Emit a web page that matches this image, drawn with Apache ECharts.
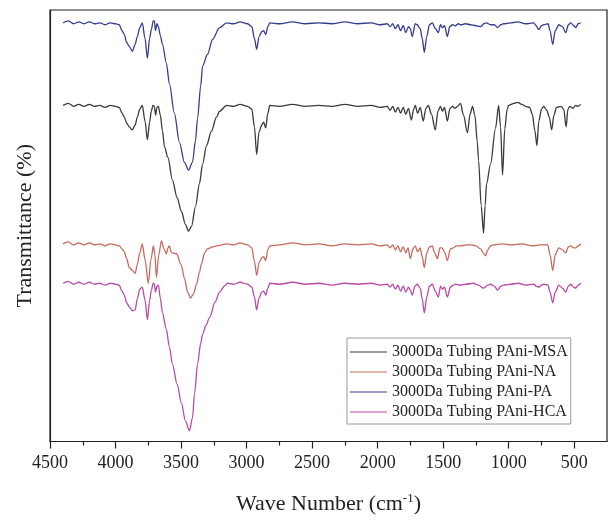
<!DOCTYPE html>
<html>
<head>
<meta charset="utf-8">
<script src="https://cdn.jsdelivr.net/npm/echarts@6/dist/echarts.min.js"></script>
<style>html,body{margin:0;padding:0;background:#fff;}#c{width:608px;height:520px;}</style>
</head>
<body>
<div id="c"></div>
<script>
// Series names
const seriesNames = ['3000Da Tubing PAni-MSA', '3000Da Tubing PAni-NA', '3000Da Tubing PAni-PA', '3000Da Tubing PAni-HCA'];
// x tick labels (wave number, cm-1)
const majorTicks = [500, 1000, 1500, 2000, 2500, 3000, 3500, 4000, 4500];
const minorTicks = [750, 1250, 1750, 2250, 2750, 3250, 3750, 4250];

// [wave number, transmittance (arbitrary offset units)]
const msaData = [[4400,342],[4360,344],[4320,341],[4280,343],[4240,341],[4200,343],[4160,341],[4120,342],[4080,340],[4040,342],[4000,341],[3972,340],[3950,334],[3933,330],[3915,324],[3895,320],[3872,317],[3850,322],[3834,330],[3815,338],[3796,342],[3775,326],[3757,307],[3740,325],[3727,336],[3715,342],[3704,341],[3694,332],[3684,340],[3673,341],[3658,332],[3642,316],[3627,300],[3600,289],[3566,266],[3530,248],[3497,234],[3467,221],[3443,214],[3420,219],[3390,239],[3360,262],[3336,282],[3306,301],[3267,316],[3230,330],[3206,336],[3152,342],[3100,341],[3050,343],[2992,341],[2960,338],[2940,320],[2923,292],[2905,315],[2884,322],[2870,325],[2854,319],[2838,334],[2823,342],[2750,341],[2650,343],[2550,341],[2450,342],[2350,341],[2250,343],[2150,341],[2050,342],[1980,340],[1927,341],[1905,337],[1885,341],[1865,335],[1845,340],[1825,334],[1805,340],[1785,333],[1765,339],[1743,327],[1725,338],[1713,342],[1695,334],[1675,340],[1652,326],[1632,339],[1613,342],[1590,333],[1560,317],[1540,336],[1521,341],[1505,336],[1490,340],[1468,326],[1448,339],[1430,341],[1410,339],[1391,341],[1368,344],[1345,332],[1315,314],[1295,333],[1276,341],[1258,332],[1240,305],[1230,286],[1210,240],[1192,212],[1180,240],[1169,262],[1139,282],[1100,319],[1077,342],[1062,320],[1047,271],[1030,318],[1012,338],[1001,342],[960,344],[932,345],[900,343],[870,341],[840,340],[820,333],[800,316],[785,301],[770,326],[750,338],[733,341],[710,337],[690,330],[672,317],[655,332],[635,340],[600,341],[580,338],[562,320],[548,338],[534,341],[510,339],[490,342],[472,341],[450,343]];

const naData = [[4400,201],[4360,203],[4320,200],[4280,202],[4240,200],[4200,202],[4160,200],[4120,201],[4080,199],[4040,201],[4000,200],[3972,199],[3950,196],[3933,193],[3915,186],[3895,177],[3872,174],[3850,171],[3834,180],[3815,192],[3796,201],[3775,185],[3750,161],[3730,185],[3711,199],[3700,190],[3688,167],[3670,190],[3650,204],[3630,196],[3612,191],[3600,197],[3589,199],[3575,193],[3566,192],[3535,191],[3500,180],[3474,166],[3450,152],[3428,146],[3405,150],[3382,160],[3360,172],[3344,181],[3320,192],[3298,196],[3260,198],[3229,199],[3150,201],[3100,200],[3050,202],[2992,200],[2960,197],[2940,183],[2923,169],[2905,182],[2884,187],[2870,188],[2854,184],[2838,195],[2823,199],[2750,200],[2650,202],[2550,200],[2450,201],[2350,199],[2250,201],[2150,200],[2050,201],[1980,199],[1927,200],[1905,197],[1885,200],[1865,195],[1845,199],[1825,193],[1805,198],[1785,192],[1768,197],[1751,186],[1730,196],[1713,199],[1695,193],[1675,197],[1660,188],[1644,177],[1625,192],[1605,198],[1583,199],[1565,192],[1544,186],[1525,197],[1510,197],[1490,193],[1468,184],[1445,196],[1422,197],[1400,199],[1368,199],[1320,200],[1280,200],[1250,199],[1215,196],[1195,192],[1177,189],[1160,195],[1139,199],[1116,200],[1050,201],[980,200],[900,201],[820,199],[760,200],[702,200],[685,190],[664,174],[645,190],[618,197],[590,195],[564,192],[545,198],[526,199],[505,197],[488,197],[470,199],[450,201]];

const paData = [[4400,426],[4360,428],[4320,425],[4280,427],[4240,425],[4200,427],[4160,425],[4120,426],[4080,424],[4040,426],[4000,425],[3972,424],[3950,418],[3933,414],[3915,406],[3895,402],[3872,397],[3850,404],[3834,412],[3815,421],[3796,426],[3775,410],[3757,390],[3740,410],[3727,419],[3712,428],[3704,428],[3695,418],[3684,425],[3673,422],[3658,413],[3642,404],[3612,385],[3589,364],[3551,334],[3512,304],[3474,284],[3443,276],[3413,284],[3390,306],[3374,329],[3350,362],[3336,382],[3298,394],[3260,409],[3206,421],[3152,426],[3100,425],[3050,427],[2992,425],[2960,422],[2940,410],[2923,399],[2905,412],[2884,417],[2870,418],[2854,414],[2838,422],[2823,426],[2750,425],[2650,427],[2550,425],[2450,426],[2350,425],[2250,427],[2150,425],[2050,426],[1980,424],[1927,425],[1905,422],[1885,425],[1865,420],[1845,424],[1825,418],[1805,423],[1785,416],[1765,422],[1751,420],[1736,412],[1713,425],[1698,424],[1675,420],[1660,410],[1644,396],[1625,412],[1605,424],[1583,426],[1560,420],[1537,416],[1520,424],[1505,421],[1490,423],[1468,412],[1450,422],[1430,424],[1407,423],[1385,425],[1368,424],[1330,425],[1290,424],[1250,423],[1215,422],[1190,425],[1170,426],[1139,424],[1110,424],[1085,421],[1060,424],[1040,425],[985,426],[930,427],[870,425],[809,426],[790,423],[771,419],[750,423],[733,424],[700,425],[685,418],[664,404],[645,418],[618,424],[590,422],[564,416],[545,424],[526,426],[505,423],[488,421],[470,425],[450,426]];

const hcaData = [[4400,161],[4360,163],[4320,160],[4280,162],[4240,160],[4200,162],[4160,160],[4120,161],[4080,159],[4040,161],[4000,160],[3972,159],[3950,153],[3933,149],[3915,141],[3895,137],[3872,133],[3850,134],[3834,145],[3815,155],[3796,157],[3775,144],[3757,124],[3740,143],[3727,154],[3712,161],[3704,160],[3695,152],[3684,158],[3673,159],[3658,146],[3642,131],[3612,114],[3589,96],[3566,79],[3530,58],[3497,39],[3467,21],[3436,11],[3413,24],[3397,49],[3374,79],[3350,100],[3336,109],[3310,118],[3283,126],[3240,142],[3206,152],[3170,158],[3145,161],[3100,160],[3050,162],[2992,160],[2960,157],[2940,147],[2923,134],[2905,146],[2884,152],[2870,153],[2854,149],[2838,156],[2823,161],[2750,160],[2650,162],[2550,160],[2450,161],[2350,159],[2250,161],[2150,160],[2050,161],[1980,159],[1927,160],[1905,157],[1885,160],[1865,155],[1845,159],[1825,153],[1805,158],[1785,152],[1765,157],[1750,154],[1736,149],[1715,158],[1698,160],[1675,156],[1660,145],[1644,131],[1625,147],[1605,158],[1583,160],[1560,153],[1537,147],[1520,158],[1505,155],[1490,157],[1468,147],[1445,157],[1425,159],[1407,160],[1370,159],[1330,160],[1269,161],[1230,159],[1192,156],[1160,159],[1139,160],[1110,158],[1085,154],[1060,158],[1039,159],[985,160],[930,161],[870,159],[809,160],[790,158],[771,157],[750,159],[733,160],[700,159],[685,152],[664,141],[645,152],[618,159],[590,156],[564,152],[545,158],[526,160],[505,157],[488,156],[470,159],[450,161]];

const colors = ['#3a3a3a', '#c8695c', '#363c8e', '#b84aa8'];
const seriesData = [msaData, naData, paData, hcaData];

const FONT = 'Liberation Serif, Times New Roman, serif';
const chart = echarts.init(document.getElementById('c'), null, {renderer: 'canvas'});

const option = {
  animation: false,
  backgroundColor: '#fff',
  grid: {left: 50, right: 1, top: 10, bottom: 71, show: true, borderColor: '#222', borderWidth: 1.2, backgroundColor: 'transparent'},
  legend: {
    orient: 'vertical', left: 347, top: 338,
    padding: [6, 3, 4, 3],
    icon: 'path://M0,0 L40,0 L40,1.3 L0,1.3 Z',
    itemWidth: 37, itemHeight: 14, itemGap: 4,
    borderColor: '#999', borderWidth: 1, backgroundColor: '#fff',
    textStyle: {fontFamily: FONT, fontSize: 16, color: '#222'},
    data: seriesNames
  },
  xAxis: [{
    type: 'value', inverse: true, min: 250, max: 4500,
    name: 'Wave Number (cm{sup|-1})',
    nameLocation: 'middle', nameGap: 51,
    nameTextStyle: {fontFamily: FONT, fontSize: 22, color: '#222',
      rich: {sup: {fontFamily: FONT, fontSize: 13, color: '#222', verticalAlign: 'top', padding: [0, 0, 10, 0]}}},
    axisLine: {show: true, lineStyle: {color: '#222', width: 1.2}},
    axisTick: {show: true, length: 7, inside: false, customValues: majorTicks, lineStyle: {color: '#222', width: 1.2}},
    axisLabel: {show: true, margin: 13, customValues: majorTicks, formatter: v => String(v), fontFamily: FONT, fontSize: 18, color: '#222'},
    splitLine: {show: false}
  }, {
    type: 'value', inverse: true, min: 250, max: 4500, position: 'bottom',
    axisLine: {show: false},
    axisTick: {show: true, length: 4, customValues: minorTicks, lineStyle: {color: '#222', width: 1.2}},
    axisLabel: {show: false},
    splitLine: {show: false}
  }],
  yAxis: {
    type: 'value', min: 0, max: 439,
    name: 'Transmittance (%)', nameLocation: 'middle', nameGap: 14,
    nameTextStyle: {fontFamily: FONT, fontSize: 22, color: '#222'},
    axisLine: {show: true, lineStyle: {color: '#222', width: 1.2}},
    axisTick: {show: false}, axisLabel: {show: false}, splitLine: {show: false}
  },
  series: seriesNames.map((n, i) => ({
    name: n, type: 'line', xAxisIndex: 0, data: seriesData[i],
    symbol: 'none', showSymbol: false,
    smooth: 0.3, smoothMonotone: 'x',
    lineStyle: {color: colors[i], width: 1.3},
    itemStyle: {color: colors[i]}
  }))
};
chart.setOption(option);
</script>
</body>
</html>
